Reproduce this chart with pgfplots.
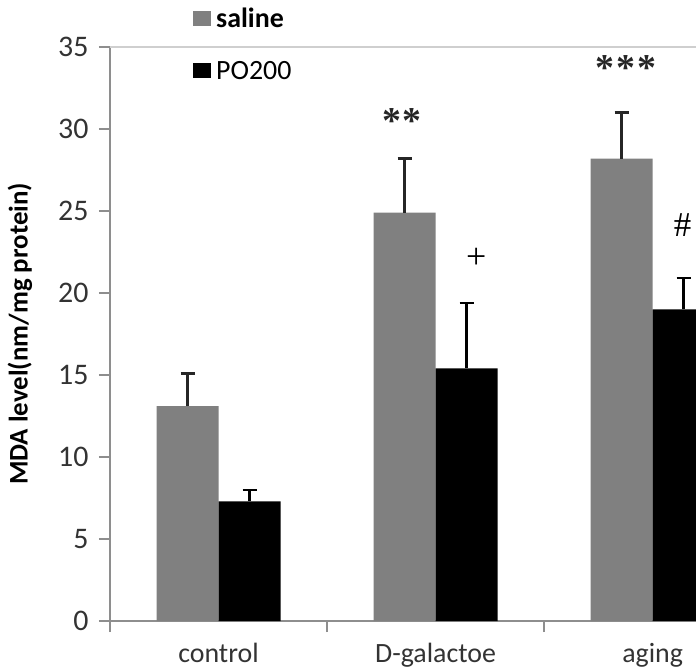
\documentclass[border=0pt]{standalone}
\usepackage{fontspec}
\setmainfont{Carlito}
\newfontfamily\annfont{Liberation Serif}
\usepackage{pgfplots}
\pgfplotsset{compat=1.18}
\definecolor{axgray}{HTML}{8E8E8E}
\definecolor{topgray}{HTML}{CFCFCF}
\definecolor{bargray}{HTML}{808080}
\definecolor{txt}{HTML}{333333}
\begin{document}
\begin{tikzpicture}
\path[use as bounding box] (-110bp,-49bp) rectangle (586bp,621bp);
\clip (-110bp,-49bp) rectangle (586bp,621bp);
\begin{axis}[
  scale only axis, width=586bp, height=574bp,
  xmin=-0.5, xmax=2.2, ymin=0, ymax=35,
  ybar=0pt, bar width=62bp,
  axis x line*=bottom, axis y line*=left,
  axis line style={draw=axgray, line width=1.3bp},
  every tick/.style={draw=axgray, line width=1.3bp},
  tick align=outside,
  major tick length=11bp,
  ytick={0,5,...,35},
  xtick={-0.5,0.5,1.5}, xticklabels={},
  extra x ticks={0,1,2},
  extra x tick labels={control,D-galactoe,aging},
  extra x tick style={major tick length=0pt, xticklabel style={anchor=base, yshift=-41bp, font=\fontsize{28}{32}\selectfont}},
  /pgf/number format/assume math mode=true,
  tick label style={font=\fontsize{30}{34}\selectfont, text=txt},
  yticklabel style={xshift=-7bp},
  ylabel={\bfseries MDA level(nm/mg protein)},
  every axis y label/.style={at={(rel axis cs:0,0.5)}, rotate=90, anchor=center, yshift=90bp,
    font=\fontsize{27}{31}\selectfont, text=black},
  legend style={draw=none, fill=none, at={(rel axis cs:0.1416,1.072)}, anchor=north west,
    font=\fontsize{28}{32}\selectfont, row sep=28bp, inner sep=0pt,
    nodes={inner sep=2bp}, /tikz/every odd column/.style={column sep=3bp}},
  legend cell align=left,
  clip=true,
]
\addplot[fill=bargray, draw=none,
  legend image code/.code={\fill[bargray] (0bp,-7.5bp) rectangle (18bp,7.5bp);},
  error bars/.cd, y dir=plus, y explicit,
  error bar style={line width=2.5bp, black!85},
  error mark options={line width=2.5bp, black!85, mark size=7bp, rotate=90}]
  coordinates {(0,13.1) +- (0,2.0) (1,24.9) +- (0,3.3) (2,28.2) +- (0,2.8)};
\addlegendentry{\bfseries saline}
\addplot[fill=black, draw=none,
  legend image code/.code={\fill[black] (0bp,-7.5bp) rectangle (18bp,7.5bp);},
  error bars/.cd, y dir=plus, y explicit,
  error bar style={line width=2.5bp, black},
  error mark options={line width=2.5bp, black, mark size=7bp, rotate=90}]
  coordinates {(0,7.3) +- (0,0.7) (1,15.4) +- (0,4.0) (2,19.0) +- (0,1.9)};
\addlegendentry{PO200}
\draw[topgray, line width=1.3bp] (rel axis cs:0,1) -- (rel axis cs:1,1);
\node[font=\annfont\bfseries\fontsize{38}{42}\selectfont, anchor=base, text=black!85] at (axis cs:0.8456,29.75) {*\kern1bp*};
\node[font=\annfont\bfseries\fontsize{38}{42}\selectfont, anchor=base, text=black!85] at (axis cs:1.878,32.93) {*\kern2bp*\kern2bp*};
\node[font=\annfont\fontsize{36}{40}\selectfont] at (axis cs:1.187,22.13) {+};
\node[font=\annfont\fontsize{35}{39}\selectfont] at (axis cs:2.138,24.15) {\#};
\end{axis}
\end{tikzpicture}
\end{document}
